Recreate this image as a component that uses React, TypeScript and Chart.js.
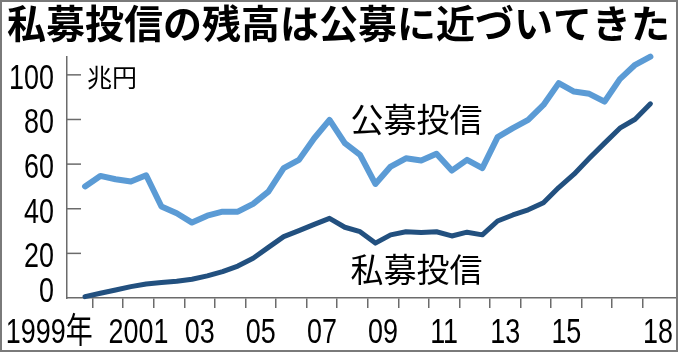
import React, { useEffect, useRef } from 'react';
import { Chart, registerables } from 'chart.js';

Chart.register(...registerables);

// ---- data ----
const TITLE = '私募投信の残高は公募に近づいてきた';
const UNIT = '兆円';
const seriesNames = ['公募投信', '私募投信'];

// half-year observation points (year/month)
const periods = [
  '1999/9', '2000/3', '2000/9', '2001/3', '2001/9', '2002/3', '2002/9', '2003/3',
  '2003/9', '2004/3', '2004/9', '2005/3', '2005/9', '2006/3', '2006/9', '2007/3',
  '2007/9', '2008/3', '2008/9', '2009/3', '2009/9', '2010/3', '2010/9', '2011/3',
  '2011/9', '2012/3', '2012/9', '2013/3', '2013/9', '2014/3', '2014/9', '2015/3',
  '2015/9', '2016/3', '2016/9', '2017/3', '2017/9', '2018/3',
];

// 公募投信 (trillion yen)
const publicFunds = [
  50, 54.7, 53.2, 52.2, 55, 41, 38, 33.8,
  36.9, 38.7, 38.7, 42.2, 47.7, 58.2, 61.9, 71.6,
  79.8, 69.4, 64.1, 51.1, 58.9, 62.6, 61.6, 64.6,
  57.1, 61.9, 58.2, 72.1, 76.1, 79.8, 86.5, 96.3,
  92.5, 91.5, 88, 98.1, 104.5, 108.2,
];

// 私募投信 (trillion yen)
const privateFunds = [
  0.6, 2.1, 3.6, 5.1, 6.3, 6.9, 7.5, 8.4,
  9.9, 11.8, 14.3, 17.8, 22.7, 27.5, 30.2, 33,
  35.7, 31.7, 29.7, 24.6, 28.3, 29.7, 29.3, 29.7,
  27.8, 29.5, 28.3, 34.5, 37.2, 39.5, 42.7, 49.5,
  55.5, 62.6, 69.4, 76.1, 80.1, 87,
];

const yearTicks = [
  2000, 2001, 2002, 2003, 2004, 2005, 2006, 2007, 2008, 2009,
  2010, 2011, 2012, 2013, 2014, 2015, 2016, 2017, 2018,
];
const labelYears = [1999, 2001, 2003, 2005, 2007, 2009, 2011, 2013, 2015, 2018];
const labelTexts = ['1999年', '2001', '03', '05', '07', '09', '11', '13', '15', '18'];
const yTicks = [0, 20, 40, 60, 80, 100];

// ---- layout / style ----
const X_MIN = 1999.16;
const X_MAX = 2019.12;
const Y_MIN = 0;
const Y_MAX = 108;
const LIGHT = '#5b9bd5';
const DARK = '#22507f';
const AXIS = '#6b6b6b';
const CJK = '"Noto Sans CJK JP", "Noto Sans CJK SC", sans-serif';
const NUM = '"Liberation Sans", "Noto Sans CJK JP", sans-serif';
const NUM_SIZE = 35;
const SQUEEZE = 0.77;
const SERIES_LABEL_POS = [
  { x: 2010.6, y: 80 },
  { x: 2010.6, y: 12.6 },
];

const toX = (p: string) => {
  const [y, m] = p.split('/').map(Number);
  return y + m / 12;
};

const drawNarrow = (ctx: CanvasRenderingContext2D, text: string, x: number, y: number, align: CanvasTextAlign) => {
  ctx.save();
  ctx.translate(x, y);
  ctx.scale(SQUEEZE, 1);
  ctx.font = `${NUM_SIZE}px ${NUM}`;
  ctx.fillStyle = '#000';
  ctx.textAlign = align;
  ctx.textBaseline = 'alphabetic';
  ctx.fillText(text, 0, 0);
  ctx.restore();
};

const overlayPlugin = {
  id: 'overlay',
  afterDraw(chart: any) {
    const { ctx, chartArea } = chart;
    const xs = chart.scales.x;
    const ys = chart.scales.y;
    ctx.save();

    // y-axis: inward tick marks and labels
    ctx.strokeStyle = AXIS;
    ctx.lineWidth = 1.5;
    ys.ticks.forEach((t: any) => {
      const py = ys.getPixelForValue(t.value);
      if (t.value !== Y_MIN) {
        ctx.beginPath();
        ctx.moveTo(chartArea.left, py);
        ctx.lineTo(chartArea.left + 14, py);
        ctx.stroke();
      }
      drawNarrow(ctx, String(t.value), chartArea.left - 13, t.value === Y_MIN ? py + 4 : py + 14, 'right');
    });

    // x-axis labels centred in the year interval
    labelYears.forEach((yr, i) => {
      if (i === 0) {
        drawNarrow(ctx, labelTexts[i], xs.getPixelForValue(yr + 1), chartArea.bottom + 45, 'right');
      } else {
        drawNarrow(ctx, labelTexts[i], xs.getPixelForValue(yr + 0.5), chartArea.bottom + 45, 'center');
      }
    });

    // series names
    ctx.fillStyle = '#000';
    ctx.font = `33px ${CJK}`;
    ctx.textAlign = 'center';
    ctx.textBaseline = 'middle';
    seriesNames.forEach((name, i) => {
      ctx.fillText(name, xs.getPixelForValue(SERIES_LABEL_POS[i].x), ys.getPixelForValue(SERIES_LABEL_POS[i].y));
    });

    // unit
    ctx.font = `25px ${CJK}`;
    ctx.textAlign = 'left';
    ctx.fillText(UNIT, chartArea.left + 20, ys.getPixelForValue(100) + 3);

    // frame
    ctx.strokeStyle = '#7a7a7a';
    ctx.lineWidth = 2;
    ctx.strokeRect(1, 1, 676, 350);
    ctx.restore();
  },
};

export default function App() {
  const ref = useRef<HTMLCanvasElement | null>(null);
  useEffect(() => {
    if (!ref.current) return;
    const chart = new Chart(ref.current, {
      type: 'line',
      data: {
        datasets: [
          {
            label: seriesNames[0],
            data: periods.map((p, i) => ({ x: toX(p), y: publicFunds[i] })),
            borderColor: LIGHT,
            backgroundColor: LIGHT,
            borderWidth: 6,
            pointRadius: 0,
            tension: 0,
            clip: false as any,
            borderJoinStyle: 'round',
            borderCapStyle: 'round',
          },
          {
            label: seriesNames[1],
            data: periods.map((p, i) => ({ x: toX(p), y: privateFunds[i] })),
            borderColor: DARK,
            backgroundColor: DARK,
            borderWidth: 5,
            pointRadius: 0,
            tension: 0,
            clip: false as any,
            borderJoinStyle: 'round',
            borderCapStyle: 'round',
          },
        ],
      },
      options: {
        animation: false,
        responsive: false,
        maintainAspectRatio: false,
        layout: { padding: { left: 0, right: 3, top: 0, bottom: 0 } },
        plugins: {
          legend: { display: false },
          tooltip: { enabled: false },
          title: {
            display: true,
            text: TITLE,
            align: 'center',
            color: '#000',
            font: { family: CJK, size: 39, weight: 'bold', lineHeight: 1 },
            padding: { top: 4, bottom: 14 },
          },
        },
        scales: {
          x: {
            type: 'linear',
            position: 'bottom',
            min: X_MIN,
            max: X_MAX,
            afterBuildTicks: (s: any) => {
              s.ticks = yearTicks.map((v) => ({ value: v }));
            },
            ticks: { display: false },
            grid: { drawOnChartArea: false, drawTicks: true, tickLength: 10, color: AXIS, lineWidth: 1.5 },
            border: { display: true, color: AXIS, width: 1.5 },
            afterFit: (s: any) => {
              s.height = 58;
            },
          },
          y: {
            type: 'linear',
            position: 'left',
            min: Y_MIN,
            max: Y_MAX,
            afterBuildTicks: (s: any) => {
              s.ticks = yTicks.map((v) => ({ value: v }));
            },
            ticks: { display: false },
            grid: { drawOnChartArea: false, drawTicks: false },
            border: { display: true, color: AXIS, width: 1.5 },
            afterFit: (s: any) => {
              s.width = 67;
            },
          },
        },
      } as any,
      plugins: [overlayPlugin],
    });
    return () => chart.destroy();
  }, []);

  return (
    <div style={{ position: 'fixed', left: 0, top: 0, width: 680, height: 356, background: '#fff' }}>
      <canvas ref={ref} width={680} height={356} style={{ width: 680, height: 356, display: 'block' }} />
    </div>
  );
}
